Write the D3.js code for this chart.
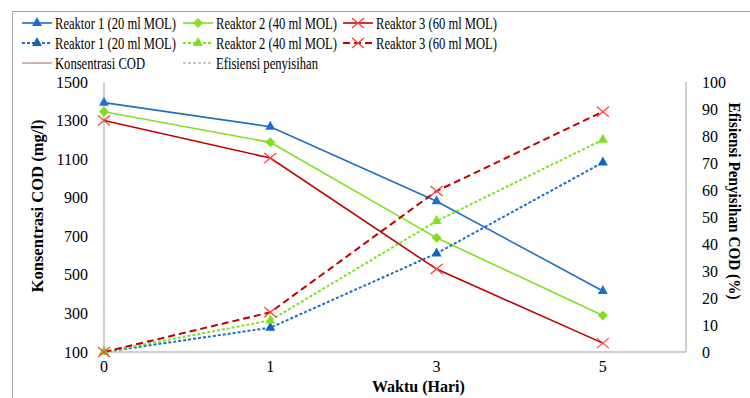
<!DOCTYPE html>
<html>
<head>
<meta charset="utf-8">
<script src="https://cdn.jsdelivr.net/npm/d3@7"></script>
<style>
  body { margin: 0; background: #fff; }
</style>
</head>
<body>
<svg id="chart" width="750" height="398" font-family="'Liberation Serif', 'Times New Roman', Tinos, 'DejaVu Serif', serif"></svg>
<script>
(function(){

  // data
  var days = ['0', '1', '3', '5'];
  var codR1 = [1393, 1268, 882, 416];
  var codR2 = [1346, 1187, 692, 289];
  var codR3 = [1300, 1106, 530, 146];
  var effR1 = [0, 9, 36.5, 70.2];
  var effR2 = [0, 11.7, 48.5, 78.6];
  var effR3 = [0, 14.7, 59.6, 89];
  var leftTicks = [100, 300, 500, 700, 900, 1100, 1300, 1500];
  var rightTicks = [0, 10, 20, 30, 40, 50, 60, 70, 80, 90, 100];

  var blue = '#1f6fc0', green = '#80e020', red = '#c00000';

  var series = [
    { name: 'Reaktor 1 (20 ml MOL)', values: codR1, axis: 'left', color: blue, marker: 'triangle', markerColor: '#1a72cc', dash: null },
    { name: 'Reaktor 2 (40 ml MOL)', values: codR2, axis: 'left', color: green, marker: 'diamond', markerColor: '#80e020', dash: null },
    { name: 'Reaktor 3 (60 ml MOL)', values: codR3, axis: 'left', color: red, marker: 'cross', markerColor: '#ff3b3b', dash: null },
    { name: 'Reaktor 1 (20 ml MOL)', values: effR1, axis: 'right', color: blue, marker: 'triangle', markerColor: '#0f66c0', dash: '3,2' },
    { name: 'Reaktor 2 (40 ml MOL)', values: effR2, axis: 'right', color: green, marker: 'triangle', markerColor: '#80e020', dash: '3,2' },
    { name: 'Reaktor 3 (60 ml MOL)', values: effR3, axis: 'right', color: red, marker: 'cross', markerColor: '#ff3b3b', dash: '7,4' }
  ];

  var svg = d3.select('#chart');

  // outer frame
  svg.append('rect')
    .attr('x', 12.5).attr('y', 11.5)
    .attr('width', 760).attr('height', 400)
    .attr('fill', 'none').attr('stroke', '#a6a6a6');

  var x = d3.scaleLinear().domain([0, 3.5]).range([104, 686]);
  var yL = d3.scaleLinear().domain([100, 1500]).range([352, 82]);
  var yR = d3.scaleLinear().domain([0, 100]).range([352, 82]);

  // axes
  var axisColor = '#bfbfbf';
  svg.append('line').attr('x1', 104).attr('x2', 104).attr('y1', 82).attr('y2', 352)
    .attr('stroke', axisColor).attr('stroke-width', 1.5);
  svg.append('line').attr('x1', 686).attr('x2', 686).attr('y1', 82).attr('y2', 352)
    .attr('stroke', axisColor).attr('stroke-width', 1.5);
  svg.append('line').attr('x1', 104).attr('x2', 686).attr('y1', 352).attr('y2', 352)
    .attr('stroke', axisColor).attr('stroke-width', 1.5);

  svg.append('g').selectAll('text')
    .data(leftTicks).enter().append('text')
    .attr('x', 88).attr('y', function(d){ return yL(d); })
    .attr('dy', '0.35em').attr('text-anchor', 'end')
    .attr('font-size', 16).text(function(d){ return d; });

  svg.append('g').selectAll('text')
    .data(rightTicks).enter().append('text')
    .attr('x', 702).attr('y', function(d){ return yR(d); })
    .attr('dy', '0.35em').attr('text-anchor', 'start')
    .attr('font-size', 16).text(function(d){ return d; });

  svg.append('g').selectAll('text')
    .data(days).enter().append('text')
    .attr('x', function(d, i){ return x(i); }).attr('y', 372)
    .attr('text-anchor', 'middle')
    .attr('font-size', 16).text(function(d){ return d; });

  // axis titles
  svg.append('text')
    .attr('transform', 'translate(43,206) rotate(-90)')
    .attr('text-anchor', 'middle').attr('font-weight', 'bold')
    .attr('font-size', 16)
    .attr('textLength', 173).attr('lengthAdjust', 'spacingAndGlyphs')
    .text('Konsentrasi COD (mg/l)');
  svg.append('text')
    .attr('transform', 'translate(729,201) rotate(90)')
    .attr('text-anchor', 'middle').attr('font-weight', 'bold')
    .attr('font-size', 16)
    .attr('textLength', 197).attr('lengthAdjust', 'spacingAndGlyphs')
    .text('Efisiensi Penyisihan COD (%)');
  svg.append('text')
    .attr('x', 372).attr('y', 392)
    .attr('text-anchor', 'start').attr('font-weight', 'bold')
    .attr('font-size', 16)
    .text('Waktu (Hari)');

  function drawMarker(g, type, color, cx, cy) {
    if (type === 'triangle') {
      g.append('path')
        .attr('d', 'M0,-6L5,3L-5,3Z')
        .attr('transform', 'translate(' + cx + ',' + cy + ')')
        .attr('fill', color);
    } else if (type === 'diamond') {
      g.append('path')
        .attr('d', 'M0,-5L5,0L0,5L-5,0Z')
        .attr('transform', 'translate(' + cx + ',' + cy + ')')
        .attr('fill', color);
    } else {
      g.append('path')
        .attr('d', 'M-6,-5L6,5M-6,5L6,-5')
        .attr('transform', 'translate(' + cx + ',' + cy + ')')
        .attr('stroke', color).attr('stroke-width', 1.2).attr('fill', 'none');
    }
  }

  // lines
  var plot = svg.append('g');
  series.forEach(function(s){
    var yS = s.axis === 'left' ? yL : yR;
    var line = d3.line()
      .x(function(d, i){ return x(i); })
      .y(function(d){ return yS(d); });
    plot.append('path')
      .datum(s.values)
      .attr('d', line)
      .attr('fill', 'none')
      .attr('stroke', s.color)
      .attr('stroke-width', s.dash ? 2 : 1.6)
      .attr('stroke-dasharray', s.dash);
  });
  series.forEach(function(s){
    var yS = s.axis === 'left' ? yL : yR;
    s.values.forEach(function(v, i){
      drawMarker(plot, s.marker, s.markerColor, x(i), yS(v));
    });
  });

  // legend
  var legend = svg.append('g');
  var colX = [22, 183, 343];
  var rowY = [23, 43, 63];
  series.forEach(function(s, i){
    var lx = colX[i % 3], ly = rowY[Math.floor(i / 3)];
    legend.append('line')
      .attr('x1', lx).attr('x2', lx + 30).attr('y1', ly).attr('y2', ly)
      .attr('stroke', s.color).attr('stroke-width', s.dash ? 2 : 1.6)
      .attr('stroke-dasharray', s.dash);
    drawMarker(legend, s.marker, s.markerColor, lx + 15, ly);
    legend.append('text')
      .attr('x', lx + 33).attr('y', ly).attr('dy', '0.35em')
      .attr('font-size', 16)
      .attr('textLength', 121).attr('lengthAdjust', 'spacingAndGlyphs')
      .text(s.name);
  });
  var extra = [
    { name: 'Konsentrasi COD', dash: null, len: 90 },
    { name: 'Efisiensi penyisihan', dash: '3,2', len: 102 }
  ];
  extra.forEach(function(e, i){
    var lx = colX[i], ly = rowY[2];
    legend.append('line')
      .attr('x1', lx).attr('x2', lx + 30).attr('y1', ly).attr('y2', ly)
      .attr('stroke', '#b5837a').attr('stroke-width', 1.2)
      .attr('stroke-dasharray', e.dash);
    legend.append('text')
      .attr('x', lx + 33).attr('y', ly).attr('dy', '0.35em')
      .attr('font-size', 16)
      .attr('textLength', e.len).attr('lengthAdjust', 'spacingAndGlyphs')
      .text(e.name);
  });

})();
</script>
</body>
</html>
